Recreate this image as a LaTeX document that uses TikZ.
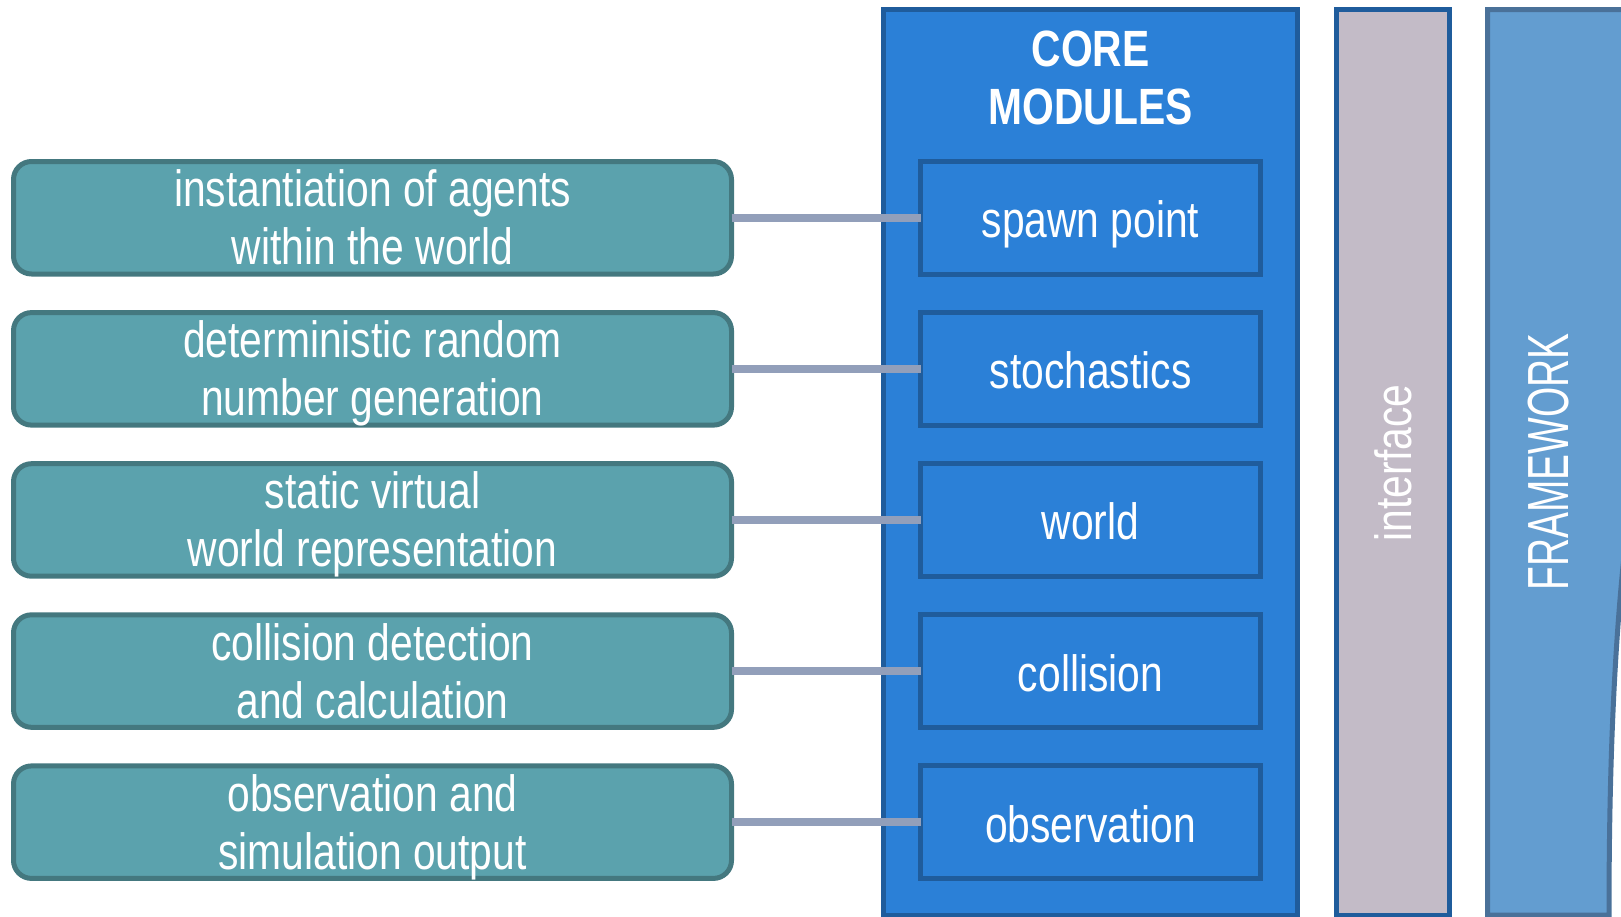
\documentclass[tikz,border=0pt]{standalone}
\usepackage{fontspec}
\setmainfont{Liberation Sans}[FakeStretch=0.8]
\newfontfamily\fwfont{Liberation Sans}[FakeStretch=0.67]
\definecolor{tealfill}{HTML}{5BA2AD}
\definecolor{tealline}{HTML}{44787F}
\definecolor{corefill}{HTML}{2B80D7}
\definecolor{coreline}{HTML}{1F5C9C}
\definecolor{connline}{HTML}{929FBA}
\definecolor{ifacefill}{HTML}{C3BBC7}
\definecolor{fwfill}{HTML}{639DD0}
\definecolor{fwline}{HTML}{4A7199}
\tikzset{
  every node/.style={outer sep=0pt},
  descbox/.style={draw=tealline, fill=tealfill, line width=5pt, rounded corners=18pt,
    minimum width=718pt, minimum height=112.5pt, inner sep=0pt, text=white, align=center,
    text height=94pt, text depth=0pt,
    font=\fontsize{51}{58}\selectfont},
  modbox/.style={draw=coreline, fill=corefill, line width=5pt,
    minimum width=340pt, minimum height=112.5pt, inner sep=0pt, text=white, align=center,
    text height=40pt, text depth=0pt,
    font=\fontsize{51}{57}\selectfont},
  corebox/.style={draw=coreline, fill=corefill, line width=5pt, inner sep=0pt, anchor=north west},
  ifacebox/.style={draw=coreline, fill=ifacefill, line width=5pt, inner sep=0pt, anchor=north west},
  conn/.style={draw=connline, line width=8pt},
  whitetext/.style={text=white, inner sep=0pt, align=center}
}
\begin{document}
\begin{tikzpicture}[x=1pt,y=-1pt]
\useasboundingbox (0,0) rectangle (1621,916);
\clip (0,0) rectangle (1621,916);
% framework
\filldraw[fill=fwfill, draw=fwline, line width=5pt]
  (1487.5,915) -- (1487.5,9.5) -- (1640,9.5) -- (1640,440)
  .. controls (1613,590) and (1609,780) .. (1609,915) -- cycle;
\node[whitetext, rotate=90, font=\fwfont\fontsize{58}{60}\selectfont] (fw) at (1549,462) {FRAMEWORK};
% interface
\node[ifacebox, minimum width=113pt, minimum height=906pt] (iface) at (1336.5,9.5) {};
\node[whitetext, rotate=90, font=\fontsize{51}{57}\selectfont] (ifacetext) at (1393,463) {interface};
% core
\node[corebox, minimum width=414.5pt, minimum height=906pt] (core) at (883,9.5) {};
\node[whitetext, font=\bfseries\fontsize{51}{58}\selectfont] (coretitle) at (1090.5,78) {CORE\\MODULES};
% modules
\node[modbox] (m1) at (1090.5,217.75) {spawn point};
\node[modbox] (m2) at (1090.5,368.85) {stochastics};
\node[modbox] (m3) at (1090.5,519.95) {world};
\node[modbox] (m4) at (1090.5,671.05) {collision};
\node[modbox] (m5) at (1090.5,822.15) {observation};
% descriptions
\node[descbox] (d1) at (372.5,217.75) {instantiation of agents\\within the world};
\node[descbox] (d2) at (372.5,368.85) {deterministic random\\number generation};
\node[descbox] (d3) at (372.5,519.95) {static virtual\\world representation};
\node[descbox] (d4) at (372.5,671.05) {collision detection\\and calculation};
\node[descbox] (d5) at (372.5,822.15) {observation and\\simulation output};
% connectors
\foreach \i in {1,...,5} {
  \draw[conn] (d\i.east) -- (m\i.west);
}
\end{tikzpicture}
\end{document}
